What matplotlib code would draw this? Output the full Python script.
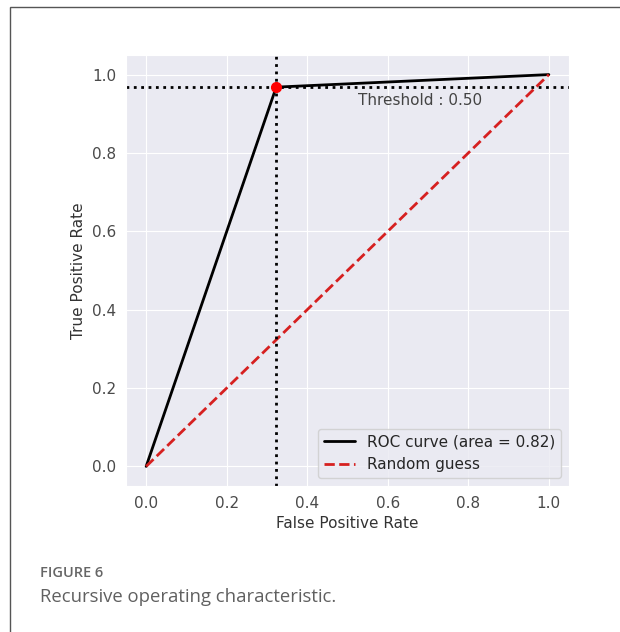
import numpy as np
import matplotlib
matplotlib.use("Agg")
import matplotlib.pyplot as plt
import seaborn as sns
from matplotlib.patches import Rectangle

# ROC data
fpr = [0.0, 0.323, 1.0]
tpr = [0.0, 0.968, 1.0]
rand_x = [0.0, 1.0]
rand_y = [0.0, 1.0]
thr_fpr = 0.323
thr_tpr = 0.968
thr_label = "Threshold : 0.50"
auc_val = 0.82
ticks = [0.0, 0.2, 0.4, 0.6, 0.8, 1.0]

sns.set_style("darkgrid")
plt.rcParams['font.family'] = ['DejaVu Sans']

fig = plt.figure(figsize=(6.2, 6.32), dpi=100)
fig.patch.set_facecolor('white')

# outer frame of the figure panel
fig.patches.append(Rectangle((10/620, -0.1), 1.2, 1 - 7/632 + 0.1, transform=fig.transFigure,
                             fill=False, edgecolor='#555555', linewidth=1.0))

ax = fig.add_axes([126/620, 1 - 486/632, 443/620, 431/632])
ax.plot(fpr, tpr, color='black', lw=2, label=f'ROC curve (area = {auc_val:.2f})')
ax.plot(rand_x, rand_y, color='#d62020', lw=2, ls='--', label='Random guess')
ax.axvline(thr_fpr, color='black', ls=':', lw=2)
ax.axhline(thr_tpr, color='black', ls=':', lw=2)
ax.plot([thr_fpr], [thr_tpr], 'o', color='red', ms=7, zorder=5)
ax.text(0.525, 0.934, thr_label, fontsize=11, color='#444444', va='center', ha='left')

ax.set_xticks(ticks)
ax.set_yticks(ticks)
ax.tick_params(labelsize=11, labelcolor='#4a4a4a')
ax.set_xlabel('False Positive Rate', fontsize=11, color='#333333')
ax.set_ylabel('True Positive Rate', fontsize=11, color='#333333')
ax.legend(loc='lower right', fontsize=11)

fig.text(40/620, 1 - 573/632, 'FIGURE 6', fontsize=10.5, color='#666666',
         family='Open Sans', weight='semibold', va='center')
fig.text(40/620, 1 - 597/632, 'Recursive operating characteristic.', fontsize=13.3,
         color='#606060', family='Open Sans', va='center')

fig.savefig('out.png', dpi=100, facecolor='white')
